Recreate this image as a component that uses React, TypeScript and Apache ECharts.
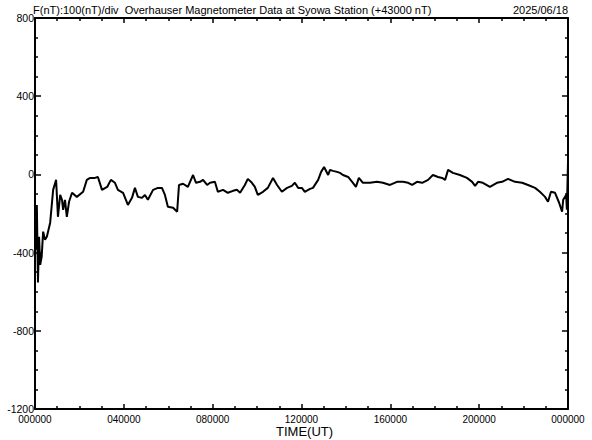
import React, { useEffect, useRef } from "react";
import * as echarts from "echarts";

// time in minutes since 00:00 UT
const times = [
  0, 3, 5, 8, 11, 14, 18, 22, 27, 32, 41, 49, 57, 62, 68, 73, 76, 81, 86, 92,
  100, 113, 130, 140, 149, 162, 170, 181, 195, 205, 216, 224, 238, 251, 262, 270, 278, 289, 297, 305,
  319, 332, 343, 351, 359, 373, 384, 389, 400, 413, 427, 435, 446, 454, 465, 473, 486, 494, 508, 521,
  535, 546, 554, 567, 575, 586, 594, 602, 616, 629, 643, 654, 667, 681, 694, 702, 711, 721, 729, 743,
  751, 765, 773, 781, 792, 797, 805, 816, 824, 832, 846, 859, 867, 875, 886, 905, 924, 940, 959, 978,
  994, 1008, 1019, 1032, 1046, 1062, 1075, 1089, 1100, 1108, 1116, 1129, 1148, 1167, 1181, 1189, 1197, 1210, 1229, 1248,
  1262, 1278, 1297, 1316, 1332, 1351, 1364, 1378, 1386, 1394, 1405, 1416, 1424, 1427, 1435, 1437, 1440,
];
// total force minus 43000 nT
const values = [
  -217, -385, -156, -553, -319, -462, -421, -293, -334, -319, -247, -79, -28, -217, -105, -130, -181, -130, -217, -140,
  -94, -115, -89, -28, -18, -18, -13, -79, -64, -28, -43, -79, -94, -156, -120, -69, -115, -120, -105, -130,
  -79, -69, -69, -105, -166, -171, -191, -54, -48, -64, -3, -43, -38, -28, -54, -43, -38, -89, -79, -94,
  -84, -79, -94, -54, -23, -43, -64, -105, -89, -69, -18, -54, -89, -69, -59, -43, -69, -69, -89, -74,
  -69, -28, 13, 38, -3, 23, 18, 13, 8, -3, -13, -43, -64, -18, -43, -43, -38, -43, -54, -38,
  -38, -43, -54, -38, -43, -28, -3, -13, -18, -28, 23, 8, -3, -18, -38, -59, -38, -43, -64, -43,
  -38, -23, -38, -43, -54, -69, -89, -115, -140, -89, -94, -145, -191, -130, -105, -181, 64,
];

const yMin = -1200;
const yMax = 800;
const yStep = 400;
const xMin = 0;
const xMax = 1440;
const xStep = 240;

const titleText = "F(nT):100(nT)/div  Overhauser Magnetometer Data at Syowa Station (+43000 nT)";
const dateText = "2025/06/18";
const xName = "TIME(UT)";

const FONT = "'Liberation Sans', Arial, sans-serif";

export default function App() {
  const ref = useRef<HTMLDivElement>(null);
  useEffect(() => {
    if (!ref.current) return;
    const chart = echarts.init(ref.current, undefined, { renderer: "svg" });
    const data = times.map((t, i) => [t, values[i]]);
    const tickCommon = { show: true, inside: true, length: 5, lineStyle: { color: "#000", width: 1.5 } };
    const minorCommon = { show: true, splitNumber: 4, length: 3, lineStyle: { color: "#000", width: 1.5 } };
    const lineCommon = { show: true, onZero: false, lineStyle: { color: "#000", width: 2 } };
    const fmtX = (v: number) => {
      const h = Math.round(v / 60) % 24;
      return String(h).padStart(2, "0") + "0000";
    };
    const xBase = {
      type: "value" as const,
      min: xMin,
      max: xMax,
      interval: xStep,
      axisLine: lineCommon,
      axisTick: tickCommon,
      minorTick: minorCommon,
      splitLine: { show: false },
    };
    const yBase = {
      type: "value" as const,
      min: yMin,
      max: yMax,
      interval: yStep,
      axisLine: lineCommon,
      axisTick: { ...tickCommon, length: 6 },
      minorTick: minorCommon,
      splitLine: { show: false },
    };
    chart.setOption({
      animation: false,
      backgroundColor: "#fff",
      grid: { left: 35, right: 24, top: 18, bottom: 31 },
      xAxis: [
        {
          ...xBase,
          position: "bottom",
          axisLabel: {
            show: true,
            formatter: fmtX,
            color: "#000",
            fontSize: 10,
            lineHeight: 10,
            fontFamily: FONT,
            margin: 5,
            showMinLabel: true,
            showMaxLabel: true,
          },
        },
        { ...xBase, position: "top", axisLabel: { show: false } },
      ],
      yAxis: [
        {
          ...yBase,
          position: "left",
          axisLabel: {
            show: true,
            formatter: (v: number) => String(v),
            color: "#000",
            fontSize: 10.5,
            lineHeight: 8,
            fontFamily: FONT,
            margin: 1,
            showMinLabel: true,
            showMaxLabel: true,
          },
        },
        { ...yBase, position: "right", axisLabel: { show: false } },
      ],
      graphic: [
        {
          type: "text",
          left: 33,
          top: 4,
          style: { text: titleText, fill: "#000", font: `11px ${FONT}` },
        },
        {
          type: "text",
          right: 24,
          top: 4,
          style: { text: dateText, fill: "#000", font: `11px ${FONT}` },
        },
        {
          type: "text",
          left: 276,
          top: 425,
          style: { text: xName, fill: "#000", font: `13px ${FONT}` },
        },
      ],
      series: [
        {
          type: "line",
          data,
          xAxisIndex: 0,
          yAxisIndex: 0,
          showSymbol: false,
          symbol: "none",
          lineStyle: { color: "#000", width: 2 },
        },
      ],
    });
    return () => chart.dispose();
  }, []);
  return (
    <div
      ref={ref}
      style={{ position: "fixed", left: 0, top: 0, width: 592, height: 440, background: "#fff" }}
    />
  );
}
